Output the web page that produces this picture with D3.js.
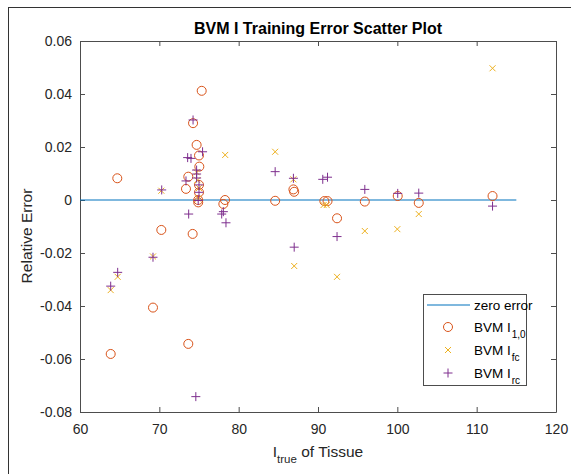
<!DOCTYPE html>
<html><head><meta charset="utf-8">
<script src="https://cdn.jsdelivr.net/npm/d3@7"></script>
<style>
html,body{margin:0;padding:0;background:#fff;}
svg text{font-family:"Liberation Sans",Arial,Helvetica,sans-serif;}
</style></head>
<body>
<svg id="chart" width="571" height="474"></svg>
<script>
// ---- data ----
const xTicks = [60, 70, 80, 90, 100, 110, 120];
const yTicks = [-0.08, -0.06, -0.04, -0.02, 0, 0.02, 0.04, 0.06];
const zeroLineX = [60, 115];

// BVM I_1,0 (circles)
const circleX = [63.87, 64.7, 69.2, 70.25, 73.36, 73.65, 73.65, 74.2, 74.25, 74.7, 75.0, 75.04, 75.0, 75.0, 74.9, 74.9, 75.34, 78.07, 78.28, 84.6, 86.9, 87.0, 90.8, 91.2, 92.4, 95.9, 100.05, 102.7, 112.0];
const circleY = [-0.0581, 0.0082, -0.0406, -0.0113, 0.0042, 0.0088, -0.0543, -0.0128, 0.029, 0.0208, 0.0168, 0.0126, 0.0057, 0.0029, 0.0, -0.0009, 0.0412, -0.0015, 0.0, -0.0003, 0.004, 0.0031, -0.0004, -0.0004, -0.0069, -0.0006, 0.0015, -0.0011, 0.0015];

// BVM I_fc (x markers)
const fcX = [63.87, 64.75, 69.2, 70.25, 74.7, 74.8, 75.0, 74.9, 78.3, 84.6, 86.9, 87.0, 90.7, 91.1, 92.4, 95.9, 100.0, 102.7, 112.0];
const fcY = [-0.034, -0.029, -0.0213, 0.0035, 0.0105, 0.0075, 0.0045, 0.0005, 0.017, 0.0182, 0.0078, -0.0249, -0.0019, -0.0019, -0.029, -0.0117, -0.011, -0.0053, 0.0497];

// BVM I_rc (+ markers)
const rcX = [63.87, 64.75, 69.2, 70.3, 73.36, 73.57, 73.99, 73.7, 74.25, 74.6, 74.7, 74.7, 74.7, 75.0, 75.0, 74.9, 75.45, 77.86, 78.07, 78.4, 84.6, 86.9, 87.0, 90.6, 91.2, 92.4, 95.9, 100.05, 102.7, 112.0];
const rcY = [-0.0325, -0.0273, -0.0216, 0.0038, 0.0072, 0.016, 0.0157, -0.0053, 0.0302, -0.0742, 0.0113, 0.0098, 0.0083, 0.0057, 0.0029, -0.0002, 0.0182, -0.0053, -0.0044, -0.0086, 0.0107, 0.0082, -0.0178, 0.0078, 0.0086, -0.0138, 0.004, 0.0025, 0.0026, -0.0023];

// ---- drawing ----
const C_LINE = "#0072BD", C_CIRC = "#D95319", C_FC = "#EDB120", C_RC = "#7E2F8E";
const axisColor = "#4d4d4d", textColor = "#262626";
const svg = d3.select("#chart");
const L = 80, R = 556, T = 41, B = 412;
const x = d3.scaleLinear().domain([60, 120]).range([L, R]);
const y = d3.scaleLinear().domain([-0.08, 0.06]).range([B, T]);

// outer frame (left/top visible)
svg.append("rect").attr("x", 8.5).attr("y", 7.5).attr("width", 600).attr("height", 600)
  .attr("fill", "none").attr("stroke", "#333").attr("stroke-width", 1);

const fmtY = d => d === 0 ? "0" : d3.format(".2f")(d).replace("−", "-");

function styleAxis(g) {
  g.selectAll("path.domain").attr("stroke", axisColor);
  g.selectAll(".tick line").attr("stroke", axisColor);
  g.selectAll(".tick text").attr("fill", textColor).style("font-size", "14px")
    .style("font-family", "'Liberation Sans',Arial,sans-serif");
}
svg.append("g").attr("transform", `translate(0,${B})`)
  .call(d3.axisBottom(x).tickValues(xTicks).tickSize(-5).tickSizeOuter(0).tickPadding(12).tickFormat(d3.format("d")))
  .call(styleAxis);
svg.append("g").attr("transform", `translate(0,${T})`)
  .call(d3.axisTop(x).tickValues(xTicks).tickSize(-5).tickSizeOuter(0).tickFormat(""))
  .call(styleAxis);
svg.append("g").attr("transform", `translate(${L},0)`)
  .call(d3.axisLeft(y).tickValues(yTicks).tickSize(-5).tickSizeOuter(0).tickPadding(8).tickFormat(fmtY))
  .call(styleAxis);
svg.append("g").attr("transform", `translate(${R},0)`)
  .call(d3.axisRight(y).tickValues(yTicks).tickSize(-5).tickSizeOuter(0).tickFormat(""))
  .call(styleAxis);

// zero error line
svg.append("line").attr("x1", x(zeroLineX[0])).attr("x2", x(zeroLineX[1]))
  .attr("y1", y(0)).attr("y2", y(0)).attr("stroke", C_LINE).attr("stroke-width", 1.2);

const gMarks = svg.append("g");
// circles
gMarks.selectAll("circle.c").data(circleX.map((v, i) => [v, circleY[i]])).join("circle")
  .attr("cx", d => x(d[0])).attr("cy", d => y(d[1])).attr("r", 4.5)
  .attr("fill", "none").attr("stroke", C_CIRC).attr("stroke-width", 1);
// x markers
const xs = 3;
gMarks.selectAll("path.fc").data(fcX.map((v, i) => [v, fcY[i]])).join("path")
  .attr("d", d => { const cx = x(d[0]), cy = y(d[1]);
    return `M${cx-xs},${cy-xs}L${cx+xs},${cy+xs}M${cx-xs},${cy+xs}L${cx+xs},${cy-xs}`; })
  .attr("stroke", C_FC).attr("stroke-width", 1).attr("fill", "none");
// + markers
const ps = 4.5;
gMarks.selectAll("path.rc").data(rcX.map((v, i) => [v, rcY[i]])).join("path")
  .attr("d", d => { const cx = x(d[0]), cy = y(d[1]);
    return `M${cx-ps},${cy}L${cx+ps},${cy}M${cx},${cy-ps}L${cx},${cy+ps}`; })
  .attr("stroke", C_RC).attr("stroke-width", 1).attr("fill", "none");

// title
svg.append("text").attr("x", (L + R) / 2).attr("y", 34).attr("text-anchor", "middle")
  .style("font-size", "16px").style("font-weight", "bold").attr("fill", "#000")
  .text("BVM I Training Error Scatter Plot");

// x label
const xl = svg.append("text").attr("x", (L + R) / 2).attr("y", 457).attr("text-anchor", "middle")
  .style("font-size", "15.5px").attr("fill", textColor);
xl.append("tspan").text("I");
xl.append("tspan").attr("dy", 6).style("font-size", "11.5px").text("true");
xl.append("tspan").attr("dy", -6).text(" of Tissue");

// y label
svg.append("text").attr("transform", `translate(32,236) rotate(-90)`)
  .attr("text-anchor", "middle").style("font-size", "15.5px").attr("fill", textColor)
  .text("Relative Error");

// legend
const lg = svg.append("g");
lg.append("rect").attr("x", 423.5).attr("y", 294.5).attr("width", 103).attr("height", 91)
  .attr("fill", "#fff").attr("stroke", axisColor).attr("stroke-width", 1);
const rowY = [305, 327, 350, 373];
const mx = 448, tx = 474;
lg.append("line").attr("x1", 427).attr("x2", 470).attr("y1", rowY[0]).attr("y2", rowY[0])
  .attr("stroke", C_LINE).attr("stroke-width", 1.2);
lg.append("circle").attr("cx", mx).attr("cy", rowY[1]).attr("r", 4.5)
  .attr("fill", "none").attr("stroke", C_CIRC);
lg.append("path").attr("d", `M${mx-xs},${rowY[2]-xs}L${mx+xs},${rowY[2]+xs}M${mx-xs},${rowY[2]+xs}L${mx+xs},${rowY[2]-xs}`)
  .attr("stroke", C_FC).attr("fill", "none");
lg.append("path").attr("d", `M${mx-ps},${rowY[3]}L${mx+ps},${rowY[3]}M${mx},${rowY[3]-ps}L${mx},${rowY[3]+ps}`)
  .attr("stroke", C_RC).attr("fill", "none");
const legendLabels = [["zero error", ""], ["BVM I", "1,0"], ["BVM I", "fc"], ["BVM I", "rc"]];
legendLabels.forEach((lab, i) => {
  const t = lg.append("text").attr("x", tx).attr("y", rowY[i] + 4.5)
    .style("font-size", "13.5px").attr("fill", "#000");
  t.append("tspan").text(lab[0]);
  if (lab[1]) t.append("tspan").attr("dy", 6).attr("dx", 1).style("font-size", "10px").text(lab[1]);
});
</script>
</body></html>
